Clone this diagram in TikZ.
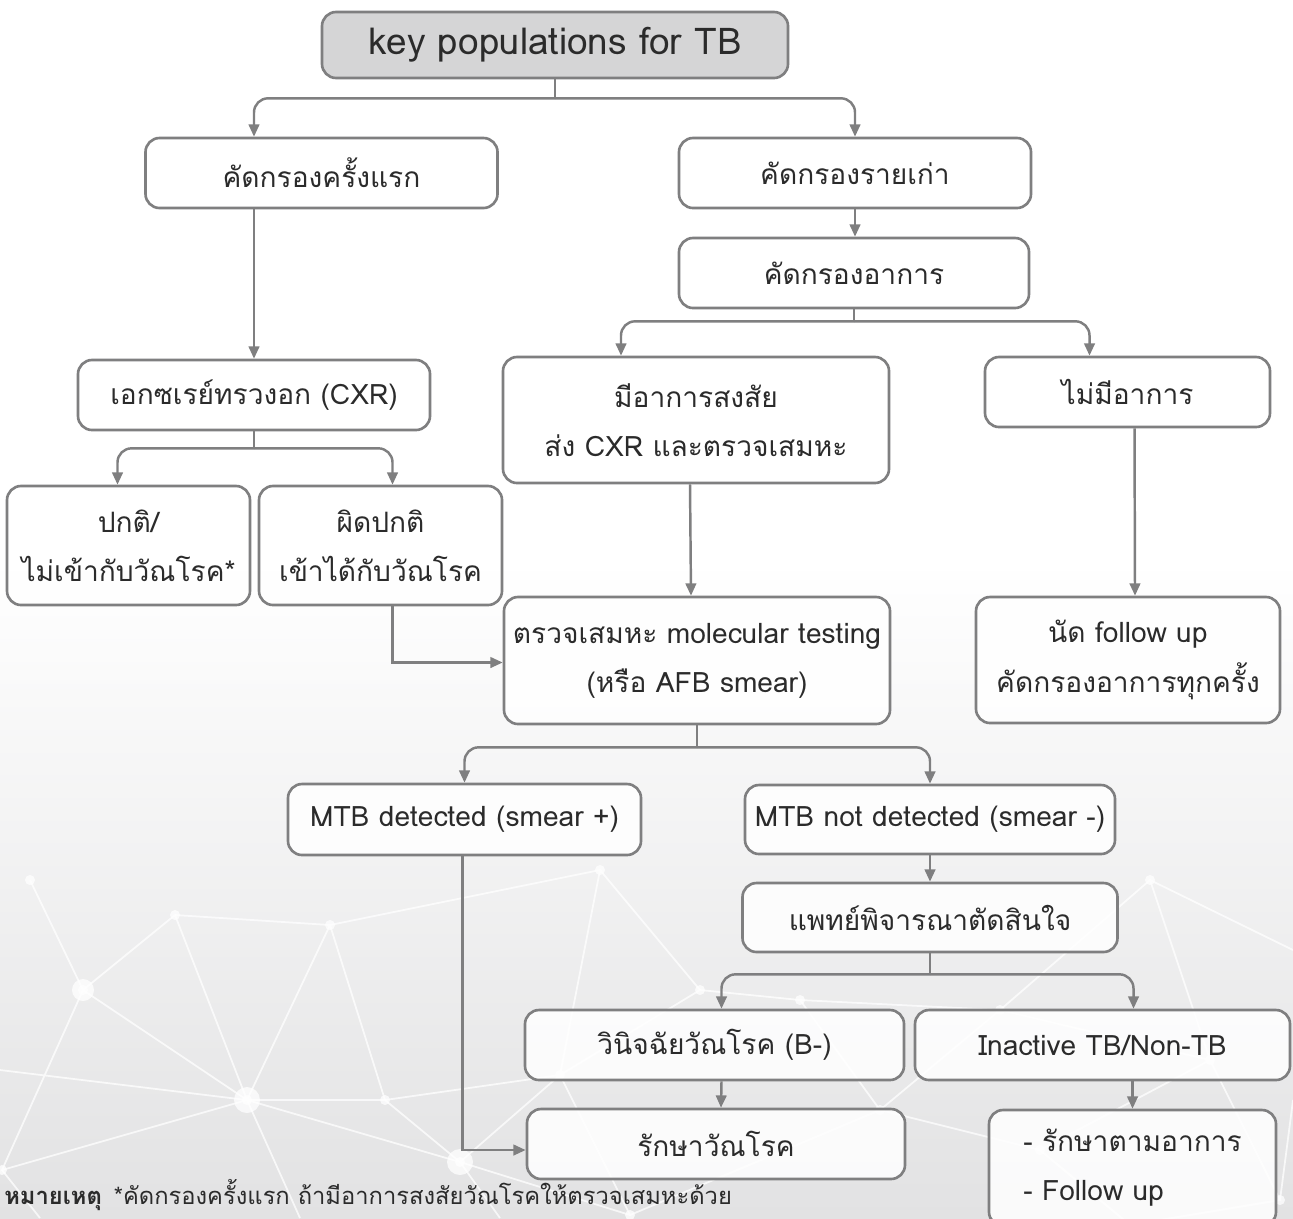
\documentclass[tikz,border=0pt]{standalone}
\usepackage{fontspec}
\setmainfont{Loma}[Script=Thai]
\usepackage{tikz}
\usetikzlibrary{arrows.meta,positioning,calc}
\definecolor{boxline}{HTML}{7F7F80}
\definecolor{topfill}{HTML}{D5D5D6}
\definecolor{txt}{HTML}{2B2B2B}
\definecolor{bggray}{HTML}{E2E2E3}
\tikzset{
  tbbox/.style={draw=boxline,fill=white,fill opacity=0.85,text opacity=1,rounded corners=8pt,line width=1.5pt,align=center,inner sep=2pt,text=txt},
  tbtop/.style={tbbox,fill=topfill,fill opacity=1,font=\fontsize{21}{26}\selectfont},
  sz/.style 2 args={minimum width={#1*0.02cm},minimum height={#2*0.02cm}},
  varr/.style={-{Triangle[length=7pt,width=6pt]},line width=1.4pt,draw=boxline,rounded corners=8pt},
  vline/.style={line width=1.4pt,draw=boxline},
  net/.style={white,line width=1pt,opacity=0.75}
}

\begin{document}
\begin{tikzpicture}[x=0.02cm,y=-0.02cm,font=\fontsize{16}{28}\selectfont]
  % background
  \useasboundingbox (0,0) rectangle (1293,1218);
  \fill[white] (0,0) rectangle (1293,560);
  \shade[top color=white,bottom color=bggray] (0,559) rectangle (1293,1218);
  % faint network
  \foreach \p/\q in {83/990,247/1100,175/915,385/1100,460/1162,2/1170,560/1075,
                     630/1215,800/1000,880/1110,1040/1150,1130/1225,1280/1200,
                     1000/1010,30/880,330/925,1210/1060,700/990,600/870,1150/880}
    \fill[white,opacity=0.75] (\p,\q) circle (5);
  \fill[white,opacity=0.75] (247,1100) circle (13) (460,1162) circle (13) (83,990) circle (11);
  \draw[net] (0,1070) -- (247,1100) -- (83,990) -- (175,915) -- (247,1100) -- (385,1100) -- (460,1162)
             -- (247,1100) -- (2,1170) -- (83,990) -- (30,880);
  \draw[net] (175,915) -- (330,925) -- (385,1100) (330,925) -- (247,1100) (330,925) -- (600,870)
             -- (700,990) (600,870) -- (560,1075);
  \draw[net] (460,1162) -- (560,1075) -- (385,1100) (460,1162) -- (630,1215) (560,1075) -- (700,990)
             -- (800,1000) -- (880,1110) -- (1040,1150) -- (1130,1225) -- (1280,1200) -- (1210,1060)
             -- (1000,1010) -- (880,1110) (1040,1150) -- (1210,1060) (800,1000) -- (1000,1010)
             (560,1075) -- (630,1215) -- (880,1110) (247,1100) -- (300,1218) (2,1170) -- (40,1218)
             (1280,1200) -- (1293,1100) (460,1162) -- (500,1218) (1000,1010) -- (1150,880)
             -- (1293,950) (1150,880) -- (1210,1060);

  % boxes
  \node[tbtop,sz={466}{66}] (top) at (555,45) {key populations for TB};
  \node[tbbox,sz={352}{70}] (first) at (321.5,173) {คัดกรองครั้งแรก};
  \node[tbbox,sz={352}{70}] (old) at (855,173) {คัดกรองรายเก่า};
  \node[tbbox,sz={350}{70}] (symp) at (854,273) {คัดกรองอาการ};
  \node[tbbox,sz={352}{70}] (cxr) at (254,395) {เอกซเรย์ทรวงอก (CXR)};
  \node[tbbox,sz={386}{126}] (susp) at (696,420) {มีอาการสงสัย\\ส่ง CXR และตรวจเสมหะ};
  \node[tbbox,sz={285}{70}] (nosymp) at (1127.5,392) {ไม่มีอาการ};
  \node[tbbox,sz={243}{119}] (normal) at (128.5,545.5) {ปกติ/\\ไม่เข้ากับวัณโรค*};
  \node[tbbox,sz={243}{119}] (abnormal) at (380.5,545.5) {ผิดปกติ\\เข้าได้กับวัณโรค};
  \node[tbbox,sz={386}{127}] (sputum) at (697,660.5) {ตรวจเสมหะ molecular testing\\(หรือ AFB smear)};
  \node[tbbox,sz={304}{126}] (follow) at (1128,660) {นัด follow up\\คัดกรองอาการทุกครั้ง};
  \node[tbbox,sz={353}{71}] (pos) at (464.5,819.5) {MTB detected (smear +)};
  \node[tbbox,sz={370}{69}] (neg) at (930,819.5) {MTB not detected (smear -)};
  \node[tbbox,sz={375}{69}] (doctor) at (930,917.5) {แพทย์พิจารณาตัดสินใจ};
  \node[tbbox,sz={379}{70}] (diag) at (714.5,1045) {วินิจฉัยวัณโรค (B-)};
  \node[tbbox,sz={375}{70}] (inact) at (1102.5,1045) {Inactive TB/Non-TB};
  \node[tbbox,sz={378}{70}] (treat) at (716,1144) {รักษาวัณโรค};
  \node[tbbox,sz={287}{116},align=left] (sympt) at (1132.5,1168) {- รักษาตามอาการ\\- Follow up};

  % note
  \node[anchor=base west,inner sep=0pt,text=txt,font=\fontsize{13.5}{16}\selectfont] (note) at (4,1204)
    {\textbf{หมายเหตุ}\enspace *คัดกรองครั้งแรก ถ้ามีอาการสงสัยวัณโรคให้ตรวจเสมหะด้วย};

  % connectors
  \coordinate (s1) at ($(top.south)+(0,19)$);
  \coordinate (s2) at ($(symp.south)+(0,12)$);
  \coordinate (s3) at ($(cxr.south)+(0,17)$);
  \coordinate (s4) at ($(sputum.south)+(0,22)$);
  \coordinate (s5) at ($(doctor.south)+(0,21)$);
  \draw[vline] (top.south) -- (s1);
  \draw[varr] (s1) -| (first.north -| cxr.north);
  \draw[varr] (s1) -| (old.north);
  \draw[varr] (first.south -| cxr.north) -- (cxr.north);
  \draw[varr] (old.south) -- (old.south |- symp.north);

  \draw[vline] (symp.south) -- (s2);
  \draw[varr] (s2) -| ($(susp.north)+(-75,0)$);
  \draw[varr] (s2) -| ($(nosymp.north)+(-38,0)$);

  \draw[vline] (cxr.south) -- (s3);
  \draw[varr] (s3) -| ($(normal.north)+(-11,0)$);
  \draw[varr] (s3) -| ($(abnormal.north)+(12,0)$);

  \draw[varr,rounded corners=0pt] ($(abnormal.south)+(12,0)$) |- ($(sputum.west)+(0,2)$);
  \draw[varr] ($(susp.south)+(-6,0)$) -- ($(sputum.north)+(-6,0)$);
  \draw[varr] ($(nosymp.south)+(7,0)$) -- ($(follow.north)+(7,0)$);

  \draw[vline] (sputum.south) -- (s4);
  \draw[varr] (s4) -| (pos.north);
  \draw[varr] (s4) -| (neg.north);
  \draw[varr,rounded corners=0pt] ($(pos.south)+(-2,0)$) |- ($(treat.west)+(0,6)$);
  \draw[varr] (neg.south) -- (neg.south |- doctor.north);

  \draw[vline] (doctor.south) -- (s5);
  \draw[varr] (s5) -| ($(diag.north)+(7,0)$);
  \draw[varr] (s5) -| ($(inact.north)+(31,0)$);
  \draw[varr] ($(diag.south)+(7,0)$) -- ($(treat.north)+(5,0)$);
  \draw[varr] (sympt.north |- inact.south) -- (sympt.north);
\end{tikzpicture}
\end{document}
